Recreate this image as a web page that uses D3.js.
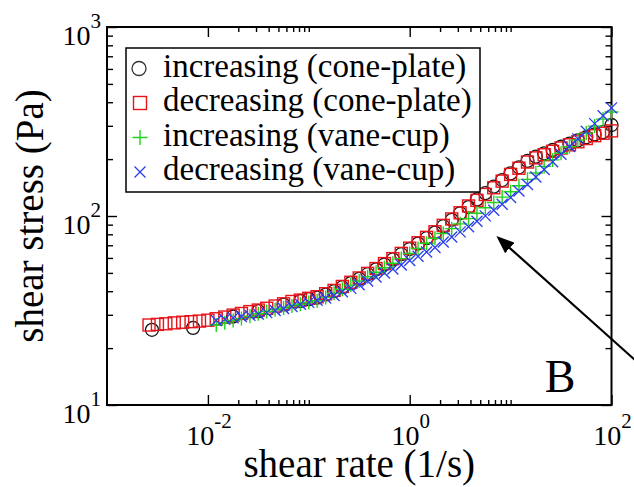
<!DOCTYPE html>
<html>
<head>
<meta charset="utf-8">
<script src="https://cdn.jsdelivr.net/npm/d3@7"></script>
<style>
body { margin: 0; background: #fff; }
svg { display: block; }
</style>
</head>
<body>
<div id="chart"></div>
<script>
// shear rate grid (1/s), shared by the rheometer runs
const rates = [0.00261, 0.00316, 0.00383, 0.00464, 0.00562, 0.00681, 0.00825, 0.0100,
    0.0121, 0.0147, 0.0178, 0.0215, 0.0261, 0.0316, 0.0383, 0.0464, 0.0562, 0.0681, 0.0825, 0.100,
    0.121, 0.147, 0.178, 0.215, 0.261, 0.316, 0.383, 0.464, 0.562, 0.681, 0.825, 1.00,
    1.21, 1.47, 1.78, 2.15, 2.61, 3.16, 3.83, 4.64, 5.62, 6.81, 8.25, 10.0,
    12.1, 14.7, 17.8, 21.5, 26.1, 31.6, 38.3, 46.4, 56.2, 68.1, 82.5, 100]

// shear stress (Pa)
const decConePlate = [26.5, 26.7, 26.9, 27.2, 27.4, 27.6, 27.8, 28.1,
    28.6, 29.2, 29.9, 30.5, 31.2, 31.8, 32.5, 33.4, 34.3, 35.3, 35.9, 36.7,
    37.4, 38.8, 40.4, 42.4, 44.6, 47.0, 49.7, 52.7, 56.0, 59.5, 63.4, 67.6,
    72.2, 77.1, 82.5, 89.2, 96.5, 104, 113, 121, 130, 141, 153, 166,
    179, 193, 203, 211, 220, 229, 238, 247, 257, 266, 274, 282]
const incVaneCup = [null, null, null, null, null, null, null, null,
    26.5, 27.2, 28.0, 28.7, 29.5, 30.4, 31.2, 31.9, 32.6, 33.4, 34.1, 34.9,
    35.6, 37.1, 39.0, 41.0, 43.1, 45.3, 47.7, 50.4, 53.2, 56.2, 59.5, 63.3,
    67.4, 71.7, 76.2, 80.8, 85.7, 90.9, 96.9, 103.5, 110.5, 117.8, 125.9, 134.3,
    144.6, 156.3, 169.0, 183.0, 198.1, 214.6, 232.6, 252.4, 274.5, 299, 325.7, 355.1]
const decVaneCup = [null, null, null, null, null, null, null, null,
    28.0, 28.4, 28.9, 29.4, 29.8, 30.3, 30.8, 31.6, 32.4, 33.2, 34.1, 34.9,
    35.8, 36.8, 38.0, 39.7, 41.4, 43.3, 45.3, 47.6, 49.9, 52.4, 55.1, 58.1,
    61.2, 64.5, 68.1, 72.8, 77.4, 82.4, 87.8, 93.8, 100.2, 107.2, 115.5, 125.2,
    135.7, 146.9, 160.7, 176.3, 193.5, 212.3, 233.2, 255.9, 281.0, 308.2, 339.5, 373.4]

// increasing ramp on the cone-plate was sampled more sparsely at low rates
const incConeRates = [0.00279, 0.00713, 0.0178, 0.0316, 0.0562,
    0.0825, 0.100, 0.121, 0.147, 0.178, 0.215, 0.261, 0.316, 0.383, 0.464, 0.562, 0.681, 0.825, 1.00,
    1.21, 1.47, 1.78, 2.15, 2.61, 3.16, 3.83, 4.64, 5.62, 6.81, 8.25, 10.0,
    12.1, 14.7, 17.8, 21.5, 26.1, 31.6, 38.3, 46.4, 56.2, 68.1, 82.5, 100]
const incConePlate = [25.0, 25.6, 29.4, 31.4, 34.0,
    35.5, 36.3, 37.0, 38.4, 40.0, 42.0, 44.2, 46.5, 49.2, 52.2, 55.4, 58.9, 62.8, 66.9,
    71.5, 76.3, 81.7, 88.3, 95.5, 103.4, 111.5, 122.5, 132.0, 143.0, 155.0, 168.0,
    181.0, 195.5, 206.0, 214.5, 223.5, 232.5, 241.5, 251.0, 261.0, 270.0, 278.0, 303]

const legendLabels = ["increasing (cone-plate)", "decreasing (cone-plate)",
    "increasing (vane-cup)", "decreasing (vane-cup)"]

const xMajor = [0.01, 1, 100]
const xMinor = [0.02, 0.03, 0.04, 0.05, 0.06, 0.07, 0.08, 0.09, 0.1,
    2, 3, 4, 5, 6, 7, 8, 9, 10]
const yMajor = [10, 100, 1000]
const yMinor = [20, 30, 40, 50, 60, 70, 80, 90, 200, 300, 400, 500, 600, 700, 800, 900]

// arrow annotation, in data units: [rate, stress]
const arrowFrom = [244, 14.6]
const arrowTo = [7.6, 76.5]

const width = 634
const height = 487
const margin = {top: 27, right: 22.5, bottom: 82, left: 107}
const serif = "'Liberation Serif', 'Times New Roman', serif"

const red = "#e8141a"
const green = "#1fd21f"
const blue = "#2a3cf0"

const svg = d3.select("#chart").append("svg")
    .attr("width", width)
    .attr("height", height)
    .style("font-family", serif)

const x = d3.scaleLog().domain([1e-3, 1e2]).range([margin.left, width - margin.right])
const y = d3.scaleLog().domain([10, 1000]).range([height - margin.bottom, margin.top])

const plotW = width - margin.left - margin.right
const plotH = height - margin.top - margin.bottom

// ticks point inward on all four sides
function drawTicks(makeAxis, values, size, transform) {
    svg.append("g")
        .attr("transform", transform)
        .call(makeAxis().tickValues(values).tickSize(-size).tickFormat(""))
        .call(g => g.select(".domain").remove())
        .call(g => g.selectAll("line").attr("stroke", "#000").attr("stroke-width", 1.4))
}
drawTicks(() => d3.axisBottom(x), xMajor, 10, `translate(0,${height - margin.bottom})`)
drawTicks(() => d3.axisBottom(x), xMinor, 5, `translate(0,${height - margin.bottom})`)
drawTicks(() => d3.axisTop(x), xMajor, 10, `translate(0,${margin.top})`)
drawTicks(() => d3.axisTop(x), xMinor, 5, `translate(0,${margin.top})`)
drawTicks(() => d3.axisLeft(y), yMajor, 10, `translate(${margin.left},0)`)
drawTicks(() => d3.axisLeft(y), yMinor, 6, `translate(${margin.left},0)`)
drawTicks(() => d3.axisRight(y), yMajor, 10, `translate(${width - margin.right},0)`)
drawTicks(() => d3.axisRight(y), yMinor, 6, `translate(${width - margin.right},0)`)

svg.append("rect")
    .attr("x", margin.left)
    .attr("y", margin.top)
    .attr("width", plotW)
    .attr("height", plotH)
    .attr("fill", "none")
    .attr("stroke", "#000")
    .attr("stroke-width", 2)

// power-of-ten tick labels
function powerLabel(sel, v) {
    sel.append("tspan").text("10")
    sel.append("tspan")
        .attr("dy", -17)
        .style("font-size", "21px")
        .text(Math.round(Math.log10(v)))
}
xMajor.forEach(v => {
    svg.append("text")
        .attr("x", x(v) + 1)
        .attr("y", height - margin.bottom + 40)
        .attr("text-anchor", "middle")
        .style("font-size", "28px")
        .call(powerLabel, v)
})
yMajor.forEach(v => {
    svg.append("text")
        .attr("x", margin.left - 6)
        .attr("y", y(v) + 18)
        .attr("text-anchor", "end")
        .style("font-size", "28px")
        .call(powerLabel, v)
})

svg.append("text")
    .attr("x", margin.left + plotW / 2)
    .attr("y", 477)
    .attr("text-anchor", "middle")
    .style("font-size", "39px")
    .text("shear rate (1/s)")

svg.append("text")
    .attr("transform", `translate(43,${margin.top + plotH / 2}) rotate(-90)`)
    .attr("text-anchor", "middle")
    .style("font-size", "39px")
    .text("shear stress (Pa)")

svg.append("text")
    .attr("x", width - margin.right - 36)
    .attr("y", height - margin.bottom - 13)
    .attr("text-anchor", "end")
    .style("font-size", "46px")
    .text("B")

// marker shapes
const plusPath = s => `M${-s},0H${s}M0,${-s}V${s}`
const timesPath = s => `M${-s},${-s}L${s},${s}M${-s},${s}L${s},${-s}`

function pairs(xs, ys) {
    return xs.map((r, i) => ({rate: r, stress: ys[i]})).filter(d => d.stress != null)
}

svg.append("g").selectAll("circle")
    .data(pairs(incConeRates, incConePlate))
    .join("circle")
    .attr("cx", d => x(d.rate))
    .attr("cy", d => y(d.stress))
    .attr("r", 6.5)
    .attr("fill", "none")
    .attr("stroke", "#111")
    .attr("stroke-width", 1.3)

svg.append("g").selectAll("rect")
    .data(pairs(rates, decConePlate))
    .join("rect")
    .attr("x", d => x(d.rate) - 6)
    .attr("y", d => y(d.stress) - 6)
    .attr("width", 12)
    .attr("height", 12)
    .attr("fill", "none")
    .attr("stroke", red)
    .attr("stroke-width", 1.4)

svg.append("g").selectAll("path")
    .data(pairs(rates, incVaneCup))
    .join("path")
    .attr("transform", d => `translate(${x(d.rate)},${y(d.stress)})`)
    .attr("d", plusPath(7))
    .attr("stroke", green)
    .attr("stroke-width", 1.4)

svg.append("g").selectAll("path")
    .data(pairs(rates, decVaneCup))
    .join("path")
    .attr("transform", d => `translate(${x(d.rate)},${y(d.stress)})`)
    .attr("d", timesPath(5.5))
    .attr("stroke", blue)
    .attr("stroke-width", 1.3)

// legend
const legend = svg.append("g").attr("transform", "translate(126,48)")
legend.append("rect")
    .attr("width", 354)
    .attr("height", 144)
    .attr("fill", "#fff")
    .attr("stroke", "#000")
    .attr("stroke-width", 1.5)

const rowY = i => 20.5 + i * 34.5
legend.append("circle").attr("cx", 13).attr("cy", rowY(0)).attr("r", 7)
    .attr("fill", "none").attr("stroke", "#333").attr("stroke-width", 1.3)
legend.append("rect").attr("x", 14 - 6.5).attr("y", rowY(1) - 6.5).attr("width", 13).attr("height", 13)
    .attr("fill", "none").attr("stroke", red).attr("stroke-width", 1.4)
legend.append("path").attr("transform", `translate(14,${rowY(2)})`).attr("d", plusPath(7.5))
    .attr("stroke", green).attr("stroke-width", 1.4)
legend.append("path").attr("transform", `translate(14,${rowY(3)})`).attr("d", timesPath(5.5))
    .attr("stroke", blue).attr("stroke-width", 1.3)

legend.selectAll("text.label")
    .data(legendLabels)
    .join("text")
    .attr("class", "label")
    .attr("x", 37)
    .attr("y", (d, i) => rowY(i) + 8)
    .style("font-size", "33px")
    .text(d => d)

// arrow
svg.append("defs").append("marker")
    .attr("id", "head")
    .attr("viewBox", "0 0 18 14")
    .attr("refX", 15)
    .attr("refY", 7)
    .attr("markerWidth", 18)
    .attr("markerHeight", 14)
    .attr("markerUnits", "userSpaceOnUse")
    .attr("orient", "auto")
    .append("path")
    .attr("d", "M0,0L18,7L0,14z")
    .attr("fill", "#000")

svg.append("line")
    .attr("x1", x(arrowFrom[0]))
    .attr("y1", y(arrowFrom[1]))
    .attr("x2", x(arrowTo[0]))
    .attr("y2", y(arrowTo[1]))
    .attr("stroke", "#000")
    .attr("stroke-width", 2.2)
    .attr("marker-end", "url(#head)")
</script>
</body>
</html>
